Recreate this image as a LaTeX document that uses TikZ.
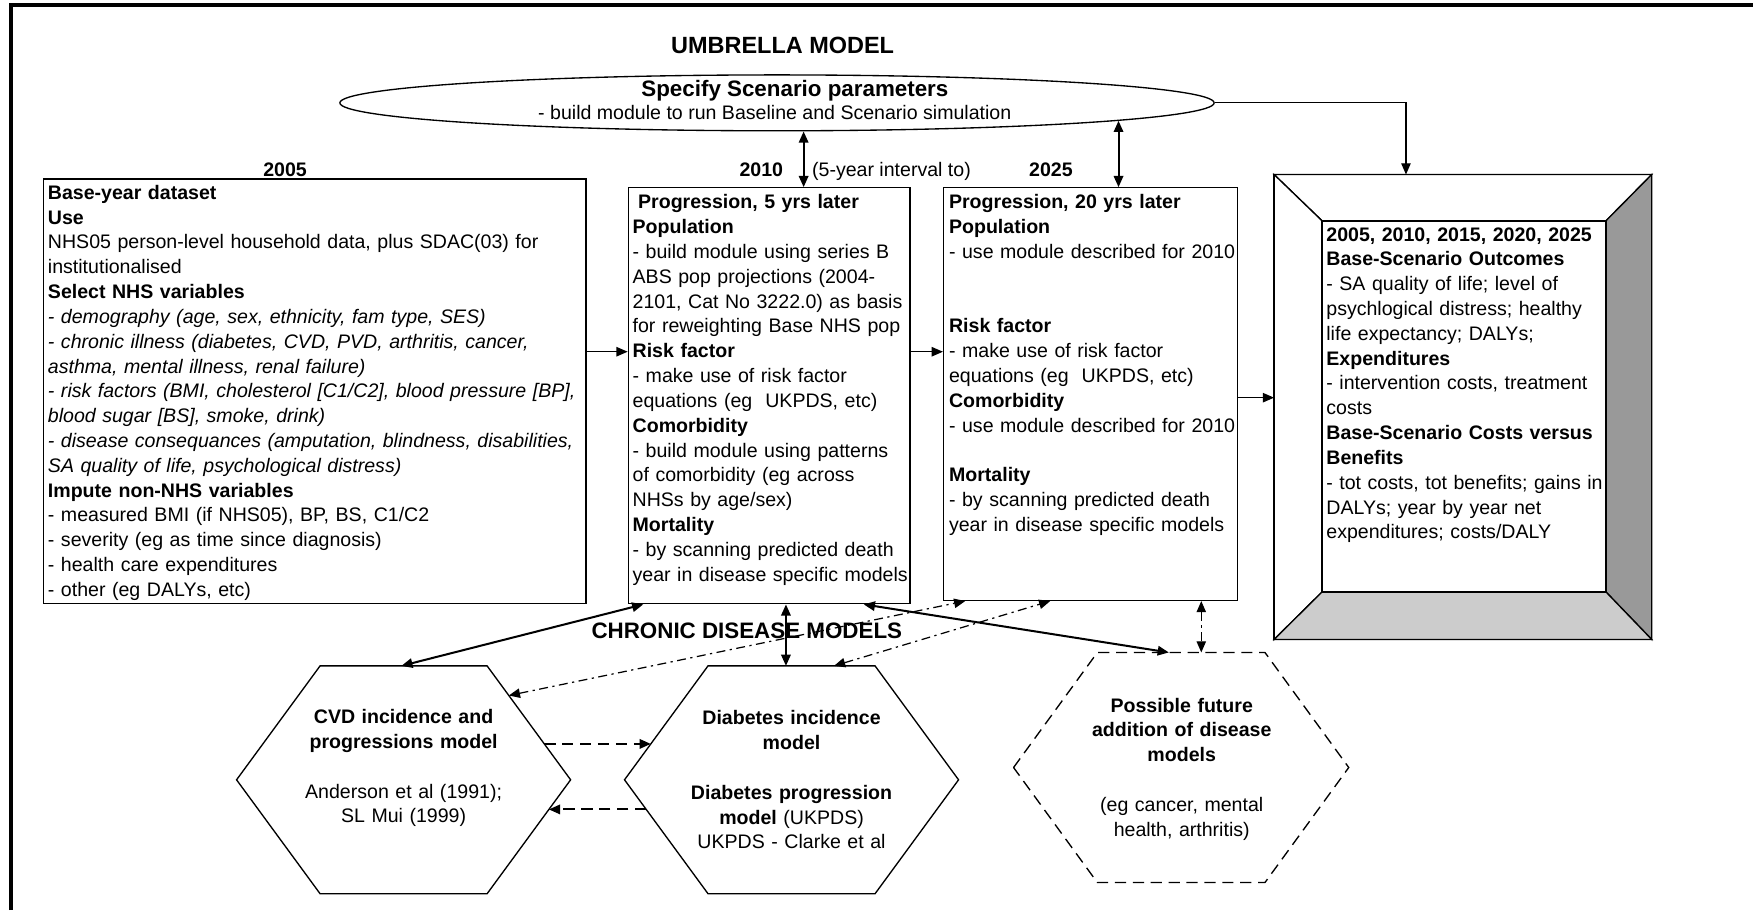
\documentclass[tikz,border=0pt]{standalone}
\usepackage{fontspec}
\setmainfont{Liberation Sans}
\usetikzlibrary{shapes.geometric,arrows.meta,calc,fit}
\newcommand\bodyfs{\fontsize{8.75pt}{11.1pt}\selectfont}
\newcommand\headfs{\fontsize{10pt}{12pt}\selectfont\bfseries}
\newcommand\hexcoords[1]{%
  \coordinate (#1-tl) at ($(#1.north west)!.5!(#1.north)$);
  \coordinate (#1-tr) at ($(#1.north)!.5!(#1.north east)$);
  \coordinate (#1-br) at ($(#1.south east)!.5!(#1.south)$);
  \coordinate (#1-bl) at ($(#1.south)!.5!(#1.south west)$);}
\newcommand\hexpath[1]{(#1.west) -- (#1-tl) -- (#1-tr) -- (#1.east) -- (#1-br) -- (#1-bl) -- cycle}
\begin{document}
\begin{tikzpicture}[x=0.5pt,y=-0.5pt,
  tip/.style={-{Triangle[length=5pt,width=4.2pt]}},
  dtip/.style={{Triangle[length=5pt,width=4.2pt]}-{Triangle[length=5pt,width=4.2pt]}},
  thinln/.style={line width=0.55pt},
  boldln/.style={line width=0.9pt},
  dashdot/.style={dash pattern=on 4pt off 2pt on 1pt off 2pt},
  dashln/.style={dash pattern=on 5pt off 3pt},
  boxnode/.style={draw, line width=0.6pt, inner sep=0pt},
  hexnode/.style={inner sep=0pt},
  txt/.style={anchor=base west, inner sep=0pt, align=left, font=\bodyfs},
  htxt/.style={anchor=base, inner sep=0pt, align=center, text width=130pt, font=\bodyfs},
  lbl/.style={anchor=base, inner sep=0pt, font=\bodyfs},
  head/.style={anchor=base, inner sep=0pt, font=\headfs}]
\useasboundingbox (0,0) rectangle (1568,814);
% outer frame lines
\draw[line width=1.8pt] (9.5,814) -- (9.5,4.5) -- (1568,4.5);

% umbrella
\node[head, font=\fontsize{10.5pt}{12pt}\selectfont\bfseries] (umb) at (700,47.5) {UMBRELLA MODEL};
\node[ellipse, draw, line width=0.6pt, minimum width=391pt, minimum height=25pt, inner sep=0pt] (ell) at (695,92) {};
\node[head] (ellt1) at (711,86.7) {Specify Scenario parameters};
\node[lbl] (ellt2) at (693,106.5) {- build module to run Baseline and Scenario simulation};

% year labels
\node[lbl, font=\bodyfs\bfseries] (y05) at (255,157.5) {2005};
\node[lbl, font=\bodyfs\bfseries] (y10) at (681,157.5) {2010};
\node[lbl, font=\bodyfs\bfseries] (y25) at (940,157.5) {2025};
\node[lbl, anchor=base west] (intv) at (726,157.5) {(5-year interval to)};

% boxes
\node[boxnode, fit={(39,160) (524,540)}] (b1) {};
\node[boxnode, fit={(562,168) (814,540)}] (b2) {};
\node[boxnode, fit={(844,168) (1107,537)}] (b3) {};

\node[txt, text width=260pt] (t1) at (42.5,178.3) {%
\textbf{Base-year dataset}\\
\textbf{Use}\\
NHS05 person-level household data, plus SDAC(03) for\\
institutionalised\\
\textbf{Select NHS variables}\\
\textit{- demography (age, sex, ethnicity, fam type, SES)}\\
\textit{- chronic illness (diabetes, CVD, PVD, arthritis, cancer,}\\
\textit{asthma, mental illness, renal failure)}\\
\textit{- risk factors (BMI, cholesterol [C1/C2], blood pressure [BP],}\\
\textit{blood sugar [BS], smoke, drink)}\\
\textit{- disease consequances (amputation, blindness, disabilities,}\\
\textit{SA quality of life, psychological distress)}\\
\textbf{Impute non-NHS variables}\\
- measured BMI (if NHS05), BP, BS, C1/C2\\
- severity (eg as time since diagnosis)\\
- health care expenditures\\
- other (eg DALYs, etc)};

\node[txt, text width=140pt] (t2) at (565.5,186.8) {%
\hspace*{0.28em}\textbf{Progression, 5 yrs later}\\
\textbf{Population}\\
- build module using series B\\
ABS pop projections (2004-\\
2101, Cat No 3222.0) as basis\\
for reweighting Base NHS pop\\
\textbf{Risk factor}\\
- make use of risk factor\\
equations (eg\ \ UKPDS, etc)\\
\textbf{Comorbidity}\\
- build module using patterns\\
of comorbidity (eg across\\
NHSs by age/sex)\\
\textbf{Mortality}\\
- by scanning predicted death\\
year in disease specific models};

\node[txt, text width=140pt] (t3) at (848.5,186.8) {%
\textbf{Progression, 20 yrs later}\\
\textbf{Population}\\
- use module described for 2010\\
\mbox{}\\
\mbox{}\\
\textbf{Risk factor}\\
- make use of risk factor\\
equations (eg\ \ UKPDS, etc)\\
\textbf{Comorbidity}\\
- use module described for 2010\\
\mbox{}\\
\textbf{Mortality}\\
- by scanning predicted death\\
year in disease specific models};

% bevelled output frame
\node[inner sep=0pt, fit={(1140,156.5) (1477,571.6)}] (fo) {};
\node[inner sep=0pt, fit={(1183,198) (1436,529)}] (fi) {};
\filldraw[fill=white, line width=0.6pt] (fo.north west) -- (fo.north east) -- (fi.north east) -- (fi.north west) -- cycle;
\filldraw[fill=white, line width=0.6pt] (fo.north west) -- (fi.north west) -- (fi.south west) -- (fo.south west) -- cycle;
\filldraw[fill=black!40, line width=0.6pt] (fo.north east) -- (fo.south east) -- (fi.south east) -- (fi.north east) -- cycle;
\filldraw[fill=black!20, line width=0.6pt] (fo.south west) -- (fi.south west) -- (fi.south east) -- (fo.south east) -- cycle;
\draw[line width=0.6pt] (fo.north west) rectangle (fo.south east);
\draw[line width=0.6pt] (fi.north west) rectangle (fi.south east);

\node[txt, text width=140pt] (t4) at (1186,215.6) {%
\textbf{2005, 2010, 2015, 2020, 2025}\\
\textbf{Base-Scenario Outcomes}\\
- SA quality of life; level of\\
psychlogical distress; healthy\\
life expectancy; DALYs;\\
\textbf{Expenditures}\\
- intervention costs, treatment\\
costs\\
\textbf{Base-Scenario Costs versus}\\
\textbf{Benefits}\\
- tot costs, tot benefits; gains in\\
DALYs; year by year net\\
expenditures; costs/DALY};

% chronic disease models
\node[head] (cdm) at (668,571) {CHRONIC DISEASE MODELS};

\node[hexnode, fit={(212,596) (510,799)}] (cvd) {};
\node[hexnode, fit={(559,596) (857,799)}] (dia) {};
\node[hexnode, fit={(907,584) (1206,789)}] (fut) {};
\hexcoords{cvd}\hexcoords{dia}\hexcoords{fut}
\draw[line width=0.6pt] \hexpath{cvd};
\draw[line width=0.6pt] \hexpath{dia};
\draw[line width=0.6pt, dashln] \hexpath{fut};

\node[htxt] (cvdt) at (361,647.3) {%
\textbf{CVD incidence and}\\
\textbf{progressions model}\\
\mbox{}\\
Anderson et al (1991);\\
SL Mui (1999)};
\node[htxt] (diat) at (708,648.3) {%
\textbf{Diabetes incidence}\\
\textbf{model}\\
\mbox{}\\
\textbf{Diabetes progression}\\
\textbf{model} (UKPDS)\\
UKPDS - Clarke et al};
\node[htxt] (futt) at (1057,637) {%
\textbf{Possible future}\\
\textbf{addition of disease}\\
\textbf{models}\\
\mbox{}\\
(eg cancer, mental\\
health, arthritis)};

% connectors, top part
\coordinate (r1) at (0,314.6);
\coordinate (r2) at (0,355.7);
\draw[thinln,tip] (b1.east |- r1) -- (b2.west |- r1);
\draw[thinln,tip] (b2.east |- r1) -- (b3.west |- r1);
\draw[thinln,tip] (b3.east |- r2) -- (fo.west |- r2);
\coordinate (fin) at ($(fo.north west)+(118,0)$);
\draw[thinln,tip] (ell.east) -| (fin);
\draw[boldln,dtip] (ell.-47.3) -- (ell.-47.3 |- b2.north);
\draw[boldln,dtip] (ell.-3.36) -- (ell.-3.36 |- b3.north);

% connectors, lower part
\draw[boldln,dtip] ($(b2.south west)+(14,0)$) -- ($(cvd.north)+(-2,0)$);
\coordinate (c3) at ($(dia.north)+(-5,0)$);
\draw[boldln,dtip] (c3 |- b2.south) -- (c3);
\draw[boldln,dtip] ($(b2.south east)+(-42,0)$) -- ($(fut.north)+(-11,0)$);
\draw[thinln,dtip,dashdot] ($(cvd-tr)!0.26!(cvd.east)$) -- ($(b3.south west)+(20,0)$);
\draw[thinln,dtip,dashdot] ($(dia.north)+(38,0)$) -- ($(b3.south west)+(96,0)$);
\coordinate (c6) at ($(fut.north)+(18,0)$);
\draw[thinln,dtip,dashdot] (c6 |- b3.south) -- (c6);
\draw[boldln,tip,dashln] ($(cvd-tr)!0.685!(cvd.east)$) -- ($(dia-tl)!0.685!(dia.west)$);
\draw[boldln,tip,dashln] ($(dia.west)!0.26!(dia-bl)$) -- ($(cvd.east)!0.26!(cvd-br)$);
\end{tikzpicture}
\end{document}
